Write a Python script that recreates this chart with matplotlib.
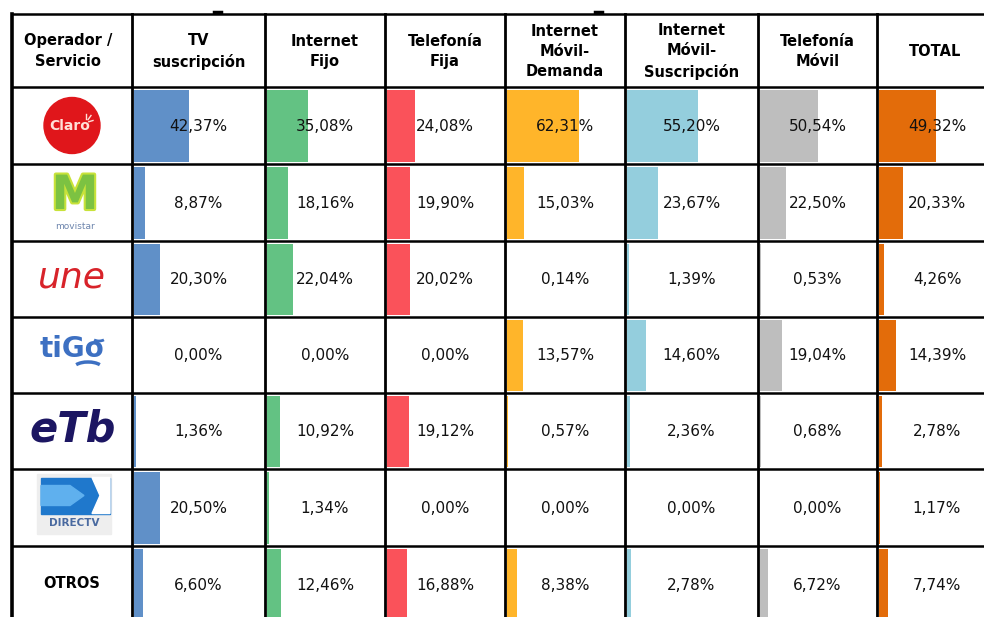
import matplotlib
matplotlib.use("Agg")
import matplotlib.pyplot as plt
from matplotlib.patches import Circle, Rectangle, Polygon, Arc
import matplotlib.patheffects as pe

# Datos (participación por operador y servicio)
operadores = ["Claro", "Movistar", "UNE", "Tigo", "ETB", "DirecTV", "OTROS"]
servicios = ["TV\nsuscripción", "Internet\nFijo", "Telefonía\nFija",
             "Internet\nMóvil-\nDemanda", "Internet\nMóvil-\nSuscripción",
             "Telefonía\nMóvil", "TOTAL"]

tv_suscripcion = [42.37, 8.87, 20.30, 0.00, 1.36, 20.50, 6.60]
internet_fijo = [35.08, 18.16, 22.04, 0.00, 10.92, 1.34, 12.46]
telefonia_fija = [24.08, 19.90, 20.02, 0.00, 19.12, 0.00, 16.88]
movil_demanda = [62.31, 15.03, 0.14, 13.57, 0.57, 0.00, 8.38]
movil_suscripcion = [55.20, 23.67, 1.39, 14.60, 2.36, 0.00, 2.78]
telefonia_movil = [50.54, 22.50, 0.53, 19.04, 0.68, 0.00, 6.72]
total = [49.32, 20.33, 4.26, 14.39, 2.78, 1.17, 7.74]

series = [tv_suscripcion, internet_fijo, telefonia_fija, movil_demanda,
          movil_suscripcion, telefonia_movil, total]
colores = ["#6090c8", "#63c283", "#fa525a", "#ffb52a", "#94cedd", "#bebebe", "#e36c0a"]

# Geometría de la tabla (pixeles)
col_bordes = [12, 132, 265, 385, 505, 625, 758, 877, 997]
fila_bordes = [14, 87, 164, 241, 317, 393, 469, 546, 623]

fig = plt.figure(figsize=(9.84, 6.17), dpi=100)
ax = fig.add_axes([0, 0, 1, 1])
ax.set_xlim(0, 984)
ax.set_ylim(617, 0)
ax.axis("off")

fila_centros = [(fila_bordes[i + 1] + fila_bordes[i + 2]) / 2 for i in range(len(operadores))]
fila_altos = [fila_bordes[i + 2] - fila_bordes[i + 1] - 5 for i in range(len(operadores))]

# Barras de datos
for j, (vals, c) in enumerate(zip(series, colores)):
    izq = col_bordes[j + 1]
    ancho = col_bordes[j + 2] - izq - 4
    ax.barh(fila_centros, [v / 100 * ancho for v in vals], left=izq + 2,
            height=fila_altos, color=c, zorder=1)
    for y, v in zip(fila_centros, vals):
        txt = f"{v:.2f}".replace(".", ",") + "%"
        ax.text((izq + col_bordes[j + 2]) / 2, y + 1, txt, ha="center", va="center",
                fontsize=11, color="#111111", zorder=3)

# Encabezados
enc_y = (fila_bordes[0] + fila_bordes[1]) / 2
ax.text(68, enc_y + 1, "Operador /\nServicio", ha="center", va="center",
        fontsize=10.5, fontweight="bold", linespacing=1.5)
for j, s in enumerate(servicios):
    xc = (col_bordes[j + 1] + col_bordes[j + 2]) / 2
    if j == 6:
        xc = 935
    ax.text(xc, enc_y + 1, s, ha="center", va="center", fontsize=10.5,
            fontweight="bold", linespacing=1.45)

# Líneas de la tabla
for x in col_bordes[:-1]:
    ax.plot([x, x], [fila_bordes[0], 617], color="black", lw=2.0 if x != 12 else 2.6, zorder=4)
for y in fila_bordes[:-1]:
    ax.plot([12, 984], [y, y], color="black", lw=1.8, zorder=4)
ax.plot([214, 221], [11.5, 11.5], color="black", lw=2.5)
ax.plot([595, 602], [11.5, 11.5], color="black", lw=2.5)

# Logos (aproximados)
cy = fila_centros
ax.add_patch(Circle((72, cy[0]), 28, color="#e0161b", zorder=2))
ax.text(70, cy[0] + 1, "Claro", ha="center", va="center", fontsize=10,
        fontweight="bold", color="#ffe0d8", zorder=3)
for dx, dy in [(0, -9), (5, -7), (7, -2)]:
    ax.plot([86 + dx * 0.4, 86 + dx], [cy[0] - 3 + dy * 0.4, cy[0] - 3 + dy],
            color="#ffe0d8", lw=1, zorder=3)

ax.text(75, cy[1] - 6, "M", ha="center", va="center", fontsize=34, fontweight="bold",
        color="#7cc242", zorder=3,
        path_effects=[pe.withStroke(linewidth=3, foreground="#c8e23a")])
ax.text(75, cy[1] + 24, "movistar", ha="center", va="center", fontsize=6.5,
        color="#6d85ad", zorder=3)

ax.text(72, cy[2] - 2, "une", ha="center", va="center", fontsize=26, style="italic",
        color="#d8232a", zorder=3)

ax.text(72, cy[3] - 6, "tiGo", ha="center", va="center", fontsize=20, fontweight="bold",
        color="#3d70c2", zorder=3)
ax.add_patch(Arc((88, cy[3] + 14), 30, 14, theta1=200, theta2=340, color="#3d70c2",
                 lw=2.5, zorder=3))
ax.add_patch(Arc((99, cy[3] - 18), 14, 8, theta1=30, theta2=150, color="#3d70c2",
                 lw=2, zorder=3))

ax.text(73, cy[4] - 2, "eTb", ha="center", va="center", fontsize=30, fontweight="bold",
        style="italic", color="#1c1662", zorder=3)

ax.add_patch(Rectangle((37, cy[5] - 34), 74, 60, color="#eeeeee", zorder=2))
ax.add_patch(Rectangle((41, cy[5] - 30), 69, 36, color="#1f78cc", zorder=2))
ax.add_patch(Polygon([(41, cy[5] - 22), (70, cy[5] - 22), (84, cy[5] - 12), (70, cy[5] - 2),
                      (41, cy[5] - 2)], closed=True, color="#5fb0ee", zorder=2))
ax.add_patch(Polygon([(92, cy[5] - 30), (110, cy[5] - 30), (110, cy[5] + 6), (92, cy[5] + 6),
                      (100, cy[5] - 12)], closed=True, color="white", zorder=2))
ax.text(74, cy[5] + 15, "DIRECTV", ha="center", va="center", fontsize=7.5,
        fontweight="bold", color="#4a6aa0", zorder=3)

ax.text(72, cy[6] - 1, "OTROS", ha="center", va="center", fontsize=10.5,
        fontweight="bold", zorder=3)

plt.savefig("out.png", dpi=100)
